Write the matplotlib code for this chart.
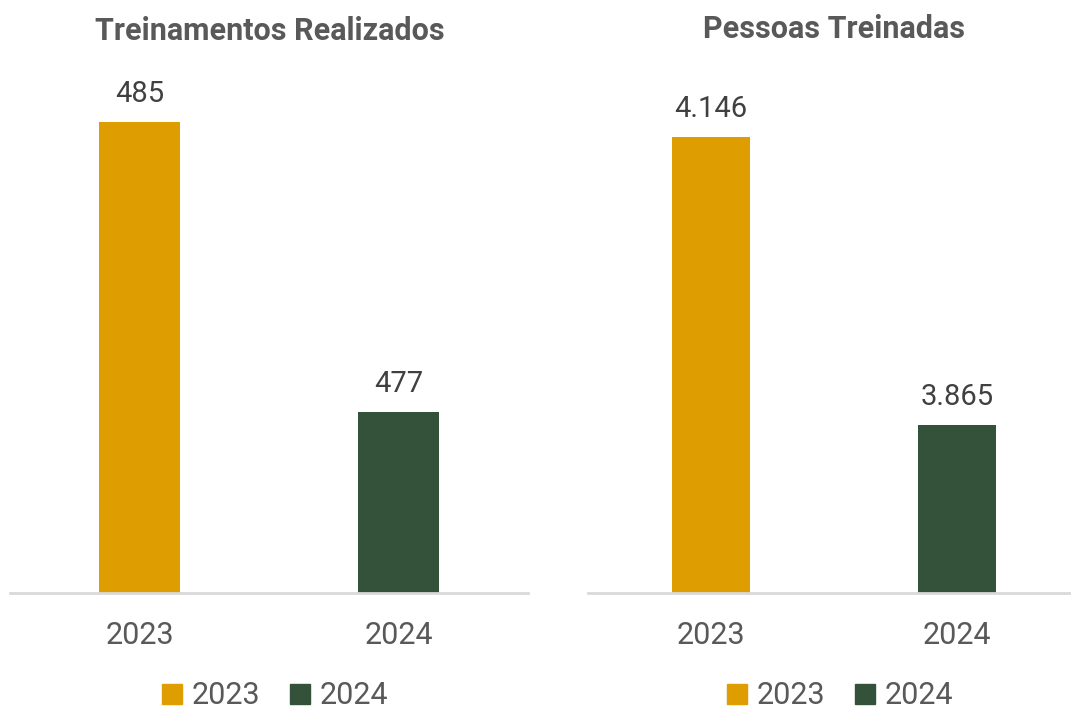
import matplotlib.pyplot as plt
from matplotlib.patches import Patch

# data
years = ['2023', '2024']
treinamentos = [485, 477]
pessoas = [4146, 3865]
labels_treinamentos = ['485', '477']
labels_pessoas = ['4.146', '3.865']
titles = ['Treinamentos Realizados', 'Pessoas Treinadas']

colors = ['#DE9D00', '#34523A']
text_color = '#595959'
plt.rcParams['font.family'] = ['Roboto', 'DejaVu Sans']

fig = plt.figure(figsize=(10.71, 7.09), dpi=100)

# axes placed in figure fractions (left, bottom, width, height)
ax1 = fig.add_axes([10 / 1071, 116 / 709, 518 / 1071, 533 / 709])
ax2 = fig.add_axes([588 / 1071, 116 / 709, 492 / 1071, 533 / 709])

panels = [
    (ax1, treinamentos, labels_treinamentos, (472, 486.7), 275),
    (ax2, pessoas, labels_pessoas, (3701, 4221), 840),
]

for i, (ax, vals, labs, ylim, leg_x) in enumerate(panels):
    x = range(len(years))
    bars = ax.bar(x, vals, width=0.316, color=colors, zorder=2)
    ax.set_ylim(*ylim)
    ax.set_xlim(-0.5, 1.5)
    for b, lab in zip(bars, labs):
        ax.annotate(lab, (b.get_x() + b.get_width() / 2, b.get_height()),
                    xytext=(0, 10), textcoords='offset points',
                    ha='center', va='bottom', fontsize=21, color='#404040')
    ax.set_xticks(list(x))
    ax.set_xticklabels(years, fontsize=22, color=text_color)
    ax.tick_params(axis='x', length=0, pad=20)
    ax.set_yticks([])
    for s in ['top', 'right', 'left']:
        ax.spines[s].set_visible(False)
    ax.spines['bottom'].set_color('#D9D9D9')
    ax.spines['bottom'].set_linewidth(2)
    ax.spines['bottom'].set_zorder(3)

    handles = [Patch(color=c, label=y) for c, y in zip(colors, years)]
    fig.legend(handles=handles, loc='center',
               bbox_to_anchor=(leg_x / 1071, 1 - 696 / 709),
               ncol=2, frameon=False, fontsize=22, labelcolor=text_color,
               handlelength=0.65, handleheight=0.65, handletextpad=0.3,
               columnspacing=1.0, borderpad=0)

fig.text(270 / 1071, 1 - 31 / 709, titles[0], ha='center', va='center',
         fontsize=22, fontweight='bold', color=text_color)
fig.text(834 / 1071, 1 - 29 / 709, titles[1], ha='center', va='center',
         fontsize=22, fontweight='bold', color=text_color)

fig.savefig('out.png', dpi=100)
